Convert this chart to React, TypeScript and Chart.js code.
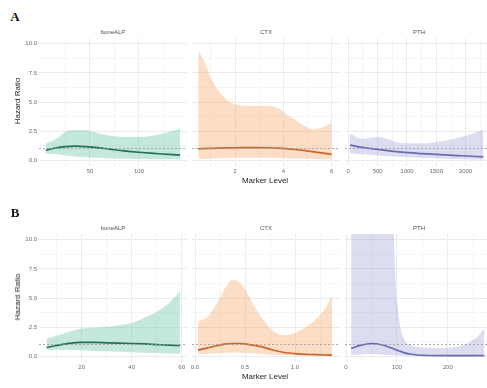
import React, { useEffect, useRef } from "react";
import { Chart, registerables } from "chart.js";
Chart.register(...registerables);

// ---------- Shared axis data ----------
const yMajor = [0, 2.5, 5, 7.5, 10];
const yMinor = [1.25, 3.75, 6.25, 8.75];
const panelTitles = ["boneALP", "CTX", "PTH"];
const rowLabels = ["A", "B"];

// ---------- Row A ----------
// boneALP
const aBoneX = [5, 15, 25, 35, 45, 55, 70, 85, 100, 115, 130, 142];
const aBoneHR = [0.85, 1.05, 1.17, 1.2, 1.17, 1.1, 0.95, 0.8, 0.68, 0.58, 0.5, 0.43];
const aBoneLo = [0.55, 0.5, 0.4, 0.3, 0.25, 0.2, 0.15, 0.12, 0.1, 0.08, 0.07, 0.06];
const aBoneHi = [1.45, 1.8, 2.45, 2.6, 2.6, 2.4, 2.1, 2.0, 2.0, 2.12, 2.4, 2.72];
const aBoneTicks = [50, 100];
const aBoneTickLabels = ["50", "100"];
const aBoneMinor = [25, 75, 125];

// CTX
const aCtxX = [0.48, 0.75, 1.0, 1.3, 1.7, 2.1, 2.7, 3.4, 3.8, 4.1, 4.5, 4.9, 5.3, 5.65, 6.0];
const aCtxHR = [0.98, 1.0, 1.02, 1.04, 1.06, 1.07, 1.08, 1.07, 1.04, 1.0, 0.92, 0.82, 0.71, 0.61, 0.5];
const aCtxLo = [0.1, 0.12, 0.15, 0.17, 0.19, 0.2, 0.21, 0.2, 0.19, 0.17, 0.14, 0.12, 0.1, 0.08, 0.06];
const aCtxHi = [9.4, 8.4, 7.1, 6.0, 5.1, 4.75, 4.65, 4.65, 4.45, 4.0, 3.45, 2.9, 2.65, 2.85, 3.2];
const aCtxTicks = [2, 4, 6];
const aCtxTickLabels = ["2", "4", "6"];
const aCtxMinor = [1, 3, 5];

// PTH
const aPthX = [30, 230, 510, 700, 910, 1250, 1650, 1930, 2300];
const aPthHR = [1.29, 1.1, 0.92, 0.8, 0.69, 0.57, 0.45, 0.38, 0.29];
const aPthLo = [0.6, 0.5, 0.4, 0.33, 0.27, 0.2, 0.13, 0.09, 0.05];
const aPthHi = [2.3, 1.85, 2.0, 1.75, 1.45, 1.45, 1.7, 2.0, 2.6];
const aPthTicks = [0, 500, 1000, 1500, 2000];
const aPthTickLabels = ["0", "500", "1000", "1500", "2000"];
const aPthMinor = [250, 750, 1250, 1750, 2250];

// ---------- Row B ----------
// boneALP
const bBoneX = [6, 10, 15, 20, 25, 30, 35, 40, 45, 50, 55, 59.3];
const bBoneHR = [0.75, 0.92, 1.1, 1.18, 1.18, 1.15, 1.12, 1.09, 1.05, 1.0, 0.95, 0.9];
const bBoneLo = [0.5, 0.55, 0.55, 0.5, 0.45, 0.42, 0.38, 0.34, 0.3, 0.27, 0.24, 0.2];
const bBoneHi = [1.52, 1.75, 2.1, 2.38, 2.45, 2.53, 2.65, 2.85, 3.3, 3.8, 4.6, 5.55];
const bBoneTicks = [20, 40, 60];
const bBoneTickLabels = ["20", "40", "60"];
const bBoneMinor = [10, 30, 50];

// CTX
const bCtxX = [0.03, 0.13, 0.23, 0.32, 0.38, 0.45, 0.53, 0.6, 0.67, 0.77, 0.88, 1.03, 1.2, 1.3, 1.37];
const bCtxHR = [0.52, 0.72, 0.92, 1.05, 1.09, 1.09, 1.02, 0.92, 0.8, 0.55, 0.34, 0.2, 0.13, 0.1, 0.09];
const bCtxLo = [0.15, 0.2, 0.25, 0.3, 0.32, 0.3, 0.28, 0.24, 0.18, 0.12, 0.08, 0.05, 0.03, 0.02, 0.02];
const bCtxHi = [2.96, 3.4, 4.7, 6.1, 6.6, 6.3, 5.3, 4.2, 3.25, 2.25, 1.8, 2.1, 3.1, 4.1, 5.2];
const bCtxTicks = [0, 0.5, 1.0];
const bCtxTickLabels = ["0.0", "0.5", "1.0"];
const bCtxMinor = [0.25, 0.75, 1.25];

// PTH
const bPthX = [10, 30, 50, 70, 88, 93, 98, 103, 108, 115, 125, 140, 160, 185, 210, 230, 250, 262, 272];
const bPthHR = [0.66, 0.95, 1.09, 0.98, 0.72, 0.64, 0.55, 0.47, 0.39, 0.29, 0.19, 0.1, 0.06, 0.05, 0.05, 0.05, 0.05, 0.05, 0.05];
const bPthLo = [0.1, 0.15, 0.18, 0.15, 0.1, 0.08, 0.07, 0.06, 0.05, 0.04, 0.03, 0.02, 0.01, 0.01, 0.01, 0.01, 0.01, 0.01, 0.01];
const bPthHi = [20, 20, 20, 20, 20, 12, 6, 3.7, 2.3, 1.4, 1.0, 0.8, 0.72, 0.7, 0.75, 0.95, 1.4, 1.85, 2.4];
const bPthTicks = [0, 100, 200];
const bPthTickLabels = ["0", "100", "200"];
const bPthMinor = [50, 150, 250];

// ---------- Styling ----------
const GREEN = { fill: "rgba(102,194,165,0.38)", line: "#23705a" };
const ORANGE = { fill: "rgba(247,165,105,0.38)", line: "#c8682a" };
const PURPLE = { fill: "rgba(150,150,212,0.32)", line: "#6a6ab0" };

const FONT = "'Liberation Sans', Arial, Helvetica, sans-serif";
const PLOT_W = 148;
const PLOT_H = 128;
const X_AXIS_H = 14;
const PANEL_LEFTS = [39, 192, 345];
const ROW_TOPS = [38, 234];

type PanelProps = {
  x: number[];
  hr: number[];
  lo: number[];
  hi: number[];
  xMin: number;
  xMax: number;
  ticks: number[];
  tickLabels: string[];
  minor: number[];
  color: { fill: string; line: string };
  plotLeft: number;
  plotTop: number;
  showY: boolean;
};

const near = (a: number, b: number) => Math.abs(a - b) < 1e-6;

function Panel(p: PanelProps) {
  const ref = useRef<HTMLCanvasElement | null>(null);
  const axisW = p.showY ? 24 : 5;
  const width = axisW + PLOT_W;
  const height = PLOT_H + X_AXIS_H;

  useEffect(() => {
    if (!ref.current) return;
    const pts = (ys: number[]) => p.x.map((v, i) => ({ x: v, y: ys[i] }));
    const allX = [...p.ticks, ...p.minor].filter((v) => v >= p.xMin && v <= p.xMax).sort((a, b) => a - b);
    const allY = [...yMajor, ...yMinor].sort((a, b) => a - b);
    const isMajorX = (v: number) => p.ticks.some((t) => near(t, v));
    const isMajorY = (v: number) => yMajor.some((t) => near(t, v));
    const chart = new Chart(ref.current, {
      type: "line",
      data: {
        datasets: [
          {
            data: pts(p.lo),
            borderColor: "rgba(0,0,0,0)",
            borderWidth: 0,
            pointRadius: 0,
            fill: false,
            cubicInterpolationMode: "monotone",
            order: 3,
          },
          {
            data: pts(p.hi),
            borderColor: "rgba(0,0,0,0)",
            borderWidth: 0,
            pointRadius: 0,
            fill: "-1",
            backgroundColor: p.color.fill,
            cubicInterpolationMode: "monotone",
            order: 2,
          },
          {
            data: pts(p.hr),
            borderColor: p.color.line,
            borderWidth: 1.7,
            pointRadius: 0,
            fill: false,
            cubicInterpolationMode: "monotone",
            order: 1,
          },
          {
            data: [
              { x: p.xMin, y: 1 },
              { x: p.xMax, y: 1 },
            ],
            borderColor: "#9a9a9a",
            borderWidth: 0.8,
            borderDash: [2, 2],
            pointRadius: 0,
            fill: false,
            order: 0,
          },
        ],
      },
      options: {
        animation: false,
        responsive: false,
        maintainAspectRatio: false,
        layout: { padding: 0 },
        plugins: { legend: { display: false }, tooltip: { enabled: false } },
        scales: {
          x: {
            type: "linear",
            min: p.xMin,
            max: p.xMax,
            afterBuildTicks: (s: any) => {
              s.ticks = allX.map((v) => ({ value: v }));
            },
            ticks: {
              autoSkip: false,
              maxRotation: 0,
              padding: 2,
              color: "#6b6b6b",
              font: { family: FONT, size: 6 },
              callback: (v: any) => {
                const i = p.ticks.findIndex((t) => near(t, Number(v)));
                return i >= 0 ? p.tickLabels[i] : "";
              },
            },
            grid: {
              drawTicks: false,
              lineWidth: 1,
              color: (c: any) => (c.tick && isMajorX(c.tick.value) ? "#ebebeb" : "#f5f5f5"),
            },
            border: { display: false },
            afterFit: (s: any) => {
              s.height = X_AXIS_H;
              s.paddingLeft = 0;
              s.paddingRight = 0;
              s.paddingTop = 0;
              s.paddingBottom = 0;
            },
          },
          y: {
            type: "linear",
            min: -0.5,
            max: 10.5,
            afterBuildTicks: (s: any) => {
              s.ticks = allY.map((v) => ({ value: v }));
            },
            ticks: {
              display: p.showY,
              autoSkip: false,
              padding: 2,
              color: "#6b6b6b",
              font: { family: FONT, size: 6 },
              callback: (v: any) => (isMajorY(Number(v)) ? Number(v).toFixed(1) : ""),
            },
            grid: {
              drawTicks: false,
              lineWidth: 1,
              color: (c: any) => (c.tick && isMajorY(c.tick.value) ? "#ebebeb" : "#f5f5f5"),
            },
            border: { display: false },
            afterFit: (s: any) => {
              s.width = axisW;
              s.paddingLeft = 0;
              s.paddingRight = 0;
              s.paddingTop = 0;
              s.paddingBottom = 0;
            },
          },
        },
      },
    } as any);
    return () => chart.destroy();
  }, []);

  return (
    <canvas
      ref={ref}
      width={width}
      height={height}
      style={{
        position: "absolute",
        left: p.plotLeft - axisW,
        top: p.plotTop,
        width,
        height,
        display: "block",
      }}
    />
  );
}

const textBase: React.CSSProperties = {
  position: "absolute",
  fontFamily: FONT,
  whiteSpace: "nowrap",
  lineHeight: 1,
};

function Centered({ x, y, size, color, children, rotate, bold, serif }: any) {
  return (
    <div
      style={{
        ...textBase,
        left: x,
        top: y,
        fontSize: size,
        color,
        fontWeight: bold ? "bold" : "normal",
        fontFamily: serif ? "'Liberation Serif', 'Times New Roman', serif" : FONT,
        transform: `translate(-50%, -50%)${rotate ? " rotate(-90deg)" : ""}`,
      }}
    >
      {children}
    </div>
  );
}

export default function App() {
  const rows = [
    {
      panels: [
        { x: aBoneX, hr: aBoneHR, lo: aBoneLo, hi: aBoneHi, xMin: -2, xMax: 149, ticks: aBoneTicks, tickLabels: aBoneTickLabels, minor: aBoneMinor, color: GREEN },
        { x: aCtxX, hr: aCtxHR, lo: aCtxLo, hi: aCtxHi, xMin: 0.221, xMax: 6.344, ticks: aCtxTicks, tickLabels: aCtxTickLabels, minor: aCtxMinor, color: ORANGE },
        { x: aPthX, hr: aPthHR, lo: aPthLo, hi: aPthHi, xMin: -56, xMax: 2465, ticks: aPthTicks, tickLabels: aPthTickLabels, minor: aPthMinor, color: PURPLE },
      ],
    },
    {
      panels: [
        { x: bBoneX, hr: bBoneHR, lo: bBoneLo, hi: bBoneHi, xMin: 2.92, xMax: 62.12, ticks: bBoneTicks, tickLabels: bBoneTickLabels, minor: bBoneMinor, color: GREEN },
        { x: bCtxX, hr: bCtxHR, lo: bCtxLo, hi: bCtxHi, xMin: -0.03, xMax: 1.45, ticks: bCtxTicks, tickLabels: bCtxTickLabels, minor: bCtxMinor, color: ORANGE },
        { x: bPthX, hr: bPthHR, lo: bPthLo, hi: bPthHi, xMin: -2, xMax: 289, ticks: bPthTicks, tickLabels: bPthTickLabels, minor: bPthMinor, color: PURPLE },
      ],
    },
  ];

  return (
    <div
      style={{
        position: "fixed",
        left: 0,
        top: 0,
        width: 487,
        height: 388,
        overflow: "hidden",
        background: "#ffffff",
      }}
    >
      {rows.map((row, r) => {
        const top = ROW_TOPS[r];
        return (
          <React.Fragment key={r}>
            <Centered x={15} y={top - 22} size={13} color="#111" bold serif>
              {rowLabels[r]}
            </Centered>
            {row.panels.map((pd, i) => (
              <React.Fragment key={i}>
                <Centered x={PANEL_LEFTS[i] + PLOT_W / 2} y={top - 6} size={6} color="#555">
                  {panelTitles[i]}
                </Centered>
                <Panel {...pd} plotLeft={PANEL_LEFTS[i]} plotTop={top} showY={i === 0} />
              </React.Fragment>
            ))}
            <Centered x={18} y={top + 63} size={8} color="#222" rotate>
              Hazard Ratio
            </Centered>
            <Centered x={265} y={top + PLOT_H + 15} size={8} color="#222">
              Marker Level
            </Centered>
          </React.Fragment>
        );
      })}
    </div>
  );
}
